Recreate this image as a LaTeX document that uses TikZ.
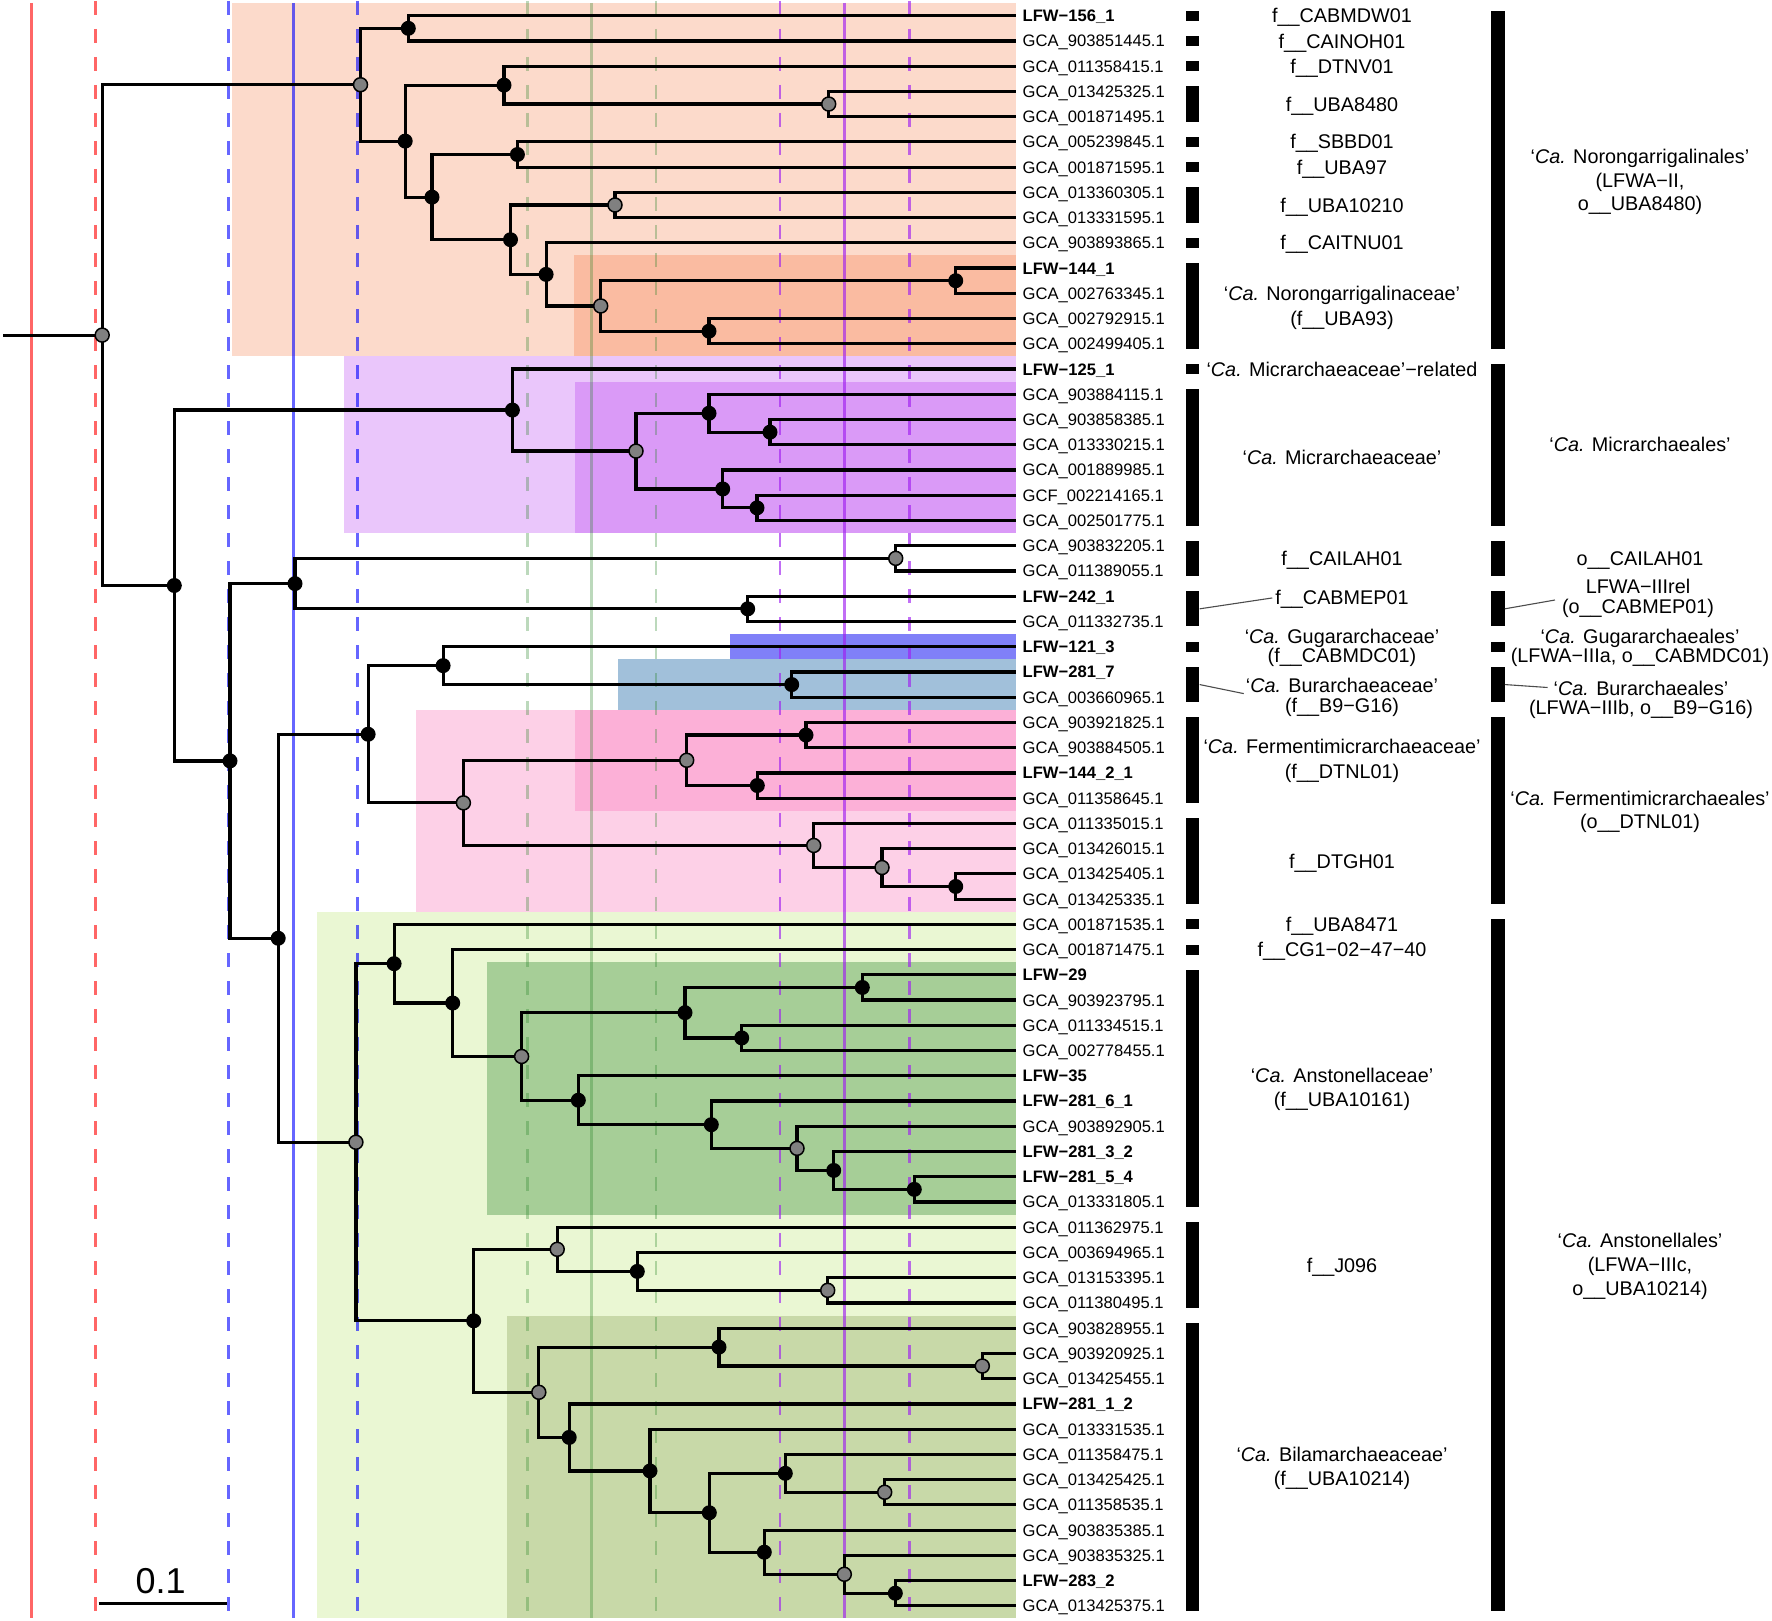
\documentclass[tikz,border=0pt]{standalone}
\usepackage{fontspec}
\setmainfont{Liberation Sans}
\definecolor{cSalmon}{HTML}{FCDACB}
\definecolor{cOrange}{HTML}{FABBA1}
\definecolor{cLPurple}{HTML}{EAC6FB}
\definecolor{cDPurple}{HTML}{DA9AF7}
\definecolor{cBlue}{HTML}{8080F8}
\definecolor{cSteel}{HTML}{A1C0DA}
\definecolor{cLPink}{HTML}{FDD0E7}
\definecolor{cDPink}{HTML}{FCB0D7}
\definecolor{cLGreen}{HTML}{EAF7D3}
\definecolor{cDGreen}{HTML}{A6CE97}
\definecolor{cOlive}{HTML}{C8D9A8}
\definecolor{lred}{RGB}{255,0,0}
\definecolor{lblue}{RGB}{0,0,255}
\definecolor{lgreen}{RGB}{32,128,32}
\definecolor{lpurple}{RGB}{160,32,240}
\definecolor{dotgrey}{RGB}{128,128,128}
\tikzset{
  br/.style={line width=3.2pt, draw=black},
  bdot/.style={circle, fill=black, inner sep=0pt, minimum size=15pt},
  gdot/.style={circle, fill=dotgrey, draw=black, line width=1.5pt, inner sep=0pt, minimum size=14pt},
  leaflab/.style={anchor=west, inner sep=0pt, font=\fontsize{16.6pt}{20pt}\selectfont, text height=11.9pt, text depth=0pt},
  annot/.style={anchor=center, inner sep=0pt, font=\fontsize{19.8pt}{24pt}\selectfont, text height=14.2pt, text depth=0pt},
  barnode/.style={rectangle, fill=black, inner sep=0pt, minimum width=13.5pt},
  conn/.style={line width=1.1pt, draw=black!70},
  vsolid/.style={line width=2.8pt},
  vdashed/.style={line width=2.8pt, dash pattern=on 14pt off 14pt},
}
\newcommand\fambar[3]{\node[barnode, minimum height={25.24*(#3-#2)+10}] (#1) at (1192.7,{25.24*(#2+#3)/2-9.54}) {};}
\newcommand\ordbar[3]{\node[barnode, minimum height={25.24*(#3-#2)+10}] (#1) at (1497.8,{25.24*(#2+#3)/2-9.54}) {};}
\begin{document}
\begin{tikzpicture}[x=1pt,y=-1pt, declare function={ry(\r)=25.24*\r-9.54;}]
\useasboundingbox (0,0) rectangle (1772,1621);

% ---------- clade backgrounds ----------
\fill[cSalmon]  (231.5,{ry(1)-12.62})  rectangle (1016,{ry(14)+12.62});
\fill[cOrange]  (574.0,{ry(11)-12.62}) rectangle (1016,{ry(14)+12.62});
\fill[cLPurple] (343.6,{ry(15)-12.62}) rectangle (1016,{ry(21)+12.62});
\fill[cDPurple] (575.0,{ry(16)-12.62}) rectangle (1016,{ry(21)+12.62});
\fill[cBlue]    (730.0,{ry(26)-12.62}) rectangle (1016,{ry(26)+12.62});
\fill[cSteel]   (617.7,{ry(27)-12.62}) rectangle (1016,{ry(28)+12.62});
\fill[cLPink]   (416.0,{ry(29)-12.62}) rectangle (1016,{ry(36)+12.62});
\fill[cDPink]   (575.0,{ry(29)-12.62}) rectangle (1016,{ry(32)+12.62});
\fill[cLGreen]  (317.2,{ry(37)-12.62}) rectangle (1016,{ry(64)+12.62});
\fill[cDGreen]  (487.1,{ry(39)-12.62}) rectangle (1016,{ry(48)+12.62});
\fill[cOlive]   (507.0,{ry(53)-12.62}) rectangle (1016,{ry(64)+12.62});

% ---------- reference lines ----------
\draw[vsolid, lred, opacity=0.6] (31.4,3) -- (31.4,1618);
\draw[vdashed, lred, opacity=0.6] (95.3,1) -- (95.3,1618);
\draw[vdashed, lblue, opacity=0.6] (228.8,1) -- (228.8,1618);
\draw[vsolid, lblue, opacity=0.6] (293.5,3) -- (293.5,1618);
\draw[vdashed, lblue, opacity=0.6] (357.8,1) -- (357.8,1618);
\draw[vdashed, lgreen, opacity=0.3] (527.7,1) -- (527.7,1618);
\draw[vsolid, lgreen, opacity=0.3] (591.7,3) -- (591.7,1618);
\draw[vdashed, lgreen, opacity=0.3] (656.0,1) -- (656.0,1618);
\draw[vdashed, lpurple, opacity=0.65] (780.0,1) -- (780.0,1618);
\draw[vsolid, lpurple, opacity=0.65] (844.3,3) -- (844.3,1618);
\draw[vdashed, lpurple, opacity=0.65] (909.3,1) -- (909.3,1618);

% ---------- tree coordinates ----------
\foreach \i in {1,...,64} { \coordinate (L\i) at (1016,{ry(\i)}); }
\foreach \n/\x/\r in {
 root/102.2/13.6548, n319/360.5/3.734375, n1/408.3/1.5, n358/405.2/5.96875,
 n447/504.0/3.75, n734/828.7/4.5, n382/432.0/8.1875, n459/517.4/6.5,
 n452/510.5/9.875, n544/615.0/8.5, n484/546.1/11.25, n531/600.7/12.5,
 n847/955.7/11.5, n628/709.0/13.5, n155/174.3/23.5752, n453/512.4/16.625,
 n563/636.0/18.25, n627/709.0/16.75, n681/770.0/17.5, n639/722.7/19.75,
 n670/757.0/20.5, n204/230.0/30.5254, n261/295.0/23.5, n793/895.7/22.5,
 n661/747.7/24.5, n246/278.2/37.5508, n325/368.1/29.46875, n393/443.1/26.75,
 n700/791.7/27.5, n409/463.4/32.1875, n607/686.7/30.5, n713/806.0/29.5,
 n670b/757.3/31.5, n720/813.7/33.875, n781/882.0/34.75, n846/955.7/35.5,
 n316/355.9/45.6328, n349/394.1/38.5586, n400/452.7/40.1172, n462/521.6/42.2344,
 n606/685.0/40.5, n763/862.3/39.5, n656/741.7/41.5, n512/578.3/43.96875,
 n629/711.3/44.9375, n706/797.0/45.875, n738/833.7/46.75, n809/914.3/47.5,
 n419/473.7/52.707, n493/557.2/49.875, n564/637.3/50.75, n733/827.7/51.5,
 n477/538.8/55.5391, n636/719.0/53.75, n869/982.3/54.5, n504/569.2/57.3281,
 n576/650.0/58.65625, n627b/709.3/60.3125, n695/785.3/58.75, n783/884.7/59.5,
 n677/764.3/61.875, n747/844.3/62.75, n792/895.3/63.5}
 { \coordinate (\n) at (\x,{ry(\r)}); }
\coordinate (stem) at (3,{ry(13.6548)});

% ---------- branches ----------
\draw[br] (stem) -- (root);
\foreach \p/\c in {
 root/n319, root/n155,
 n319/n1, n319/n358, n1/L1, n1/L2,
 n358/n447, n358/n382, n447/L3, n447/n734, n734/L4, n734/L5,
 n382/n459, n382/n452, n459/L6, n459/L7,
 n452/n544, n452/n484, n544/L8, n544/L9,
 n484/L10, n484/n531, n531/n847, n531/n628,
 n847/L11, n847/L12, n628/L13, n628/L14,
 n155/n453, n155/n204, n453/L15, n453/n563,
 n563/n627, n563/n639, n627/L16, n627/n681, n681/L17, n681/L18,
 n639/L19, n639/n670, n670/L20, n670/L21,
 n204/n261, n204/n246, n261/n793, n261/n661,
 n793/L22, n793/L23, n661/L24, n661/L25,
 n246/n325, n246/n316, n325/n393, n325/n409,
 n393/L26, n393/n700, n700/L27, n700/L28,
 n409/n607, n409/n720, n607/n713, n607/n670b,
 n713/L29, n713/L30, n670b/L31, n670b/L32,
 n720/L33, n720/n781, n781/L34, n781/n846, n846/L35, n846/L36,
 n316/n349, n316/n419, n349/L37, n349/n400, n400/L38, n400/n462,
 n462/n606, n462/n512, n606/n763, n606/n656,
 n763/L39, n763/L40, n656/L41, n656/L42,
 n512/L43, n512/n629, n629/L44, n629/n706, n706/L45, n706/n738,
 n738/L46, n738/n809, n809/L47, n809/L48,
 n419/n493, n419/n477, n493/L49, n493/n564, n564/L50, n564/n733,
 n733/L51, n733/L52,
 n477/n636, n477/n504, n636/L53, n636/n869, n869/L54, n869/L55,
 n504/L56, n504/n576, n576/L57, n576/n627b,
 n627b/n695, n627b/n677, n695/L58, n695/n783, n783/L59, n783/L60,
 n677/L61, n677/n747, n747/L62, n747/n792, n792/L63, n792/L64}
 { \draw[br] (\p) |- (\c); }

% ---------- support markers ----------
\foreach \n in {root, n319, n734, n544, n531, n563, n793, n409, n607, n720,
 n781, n316, n462, n706, n493, n733, n477, n869, n783, n747}
 { \node[gdot] (d\n) at (\n) {}; }
\foreach \n in {n1, n358, n447, n382, n459, n452, n484, n847, n628, n155,
 n453, n627, n681, n639, n670, n204, n261, n661, n246, n325, n393, n700,
 n713, n670b, n846, n349, n400, n606, n763, n656, n512, n629, n738, n809,
 n419, n564, n636, n504, n576, n627b, n695, n677, n792}
 { \node[bdot] (d\n) at (\n) {}; }

% ---------- leaf labels ----------
\foreach \i/\t in {
 1/\textbf{LFW−156\_1}, 2/GCA\_903851445.1, 3/GCA\_011358415.1, 4/GCA\_013425325.1,
 5/GCA\_001871495.1, 6/GCA\_005239845.1, 7/GCA\_001871595.1, 8/GCA\_013360305.1,
 9/GCA\_013331595.1, 10/GCA\_903893865.1, 11/\textbf{LFW−144\_1}, 12/GCA\_002763345.1,
 13/GCA\_002792915.1, 14/GCA\_002499405.1, 15/\textbf{LFW−125\_1}, 16/GCA\_903884115.1,
 17/GCA\_903858385.1, 18/GCA\_013330215.1, 19/GCA\_001889985.1, 20/GCF\_002214165.1,
 21/GCA\_002501775.1, 22/GCA\_903832205.1, 23/GCA\_011389055.1, 24/\textbf{LFW−242\_1},
 25/GCA\_011332735.1, 26/\textbf{LFW−121\_3}, 27/\textbf{LFW−281\_7}, 28/GCA\_003660965.1,
 29/GCA\_903921825.1, 30/GCA\_903884505.1, 31/\textbf{LFW−144\_2\_1}, 32/GCA\_011358645.1,
 33/GCA\_011335015.1, 34/GCA\_013426015.1, 35/GCA\_013425405.1, 36/GCA\_013425335.1,
 37/GCA\_001871535.1, 38/GCA\_001871475.1, 39/\textbf{LFW−29}, 40/GCA\_903923795.1,
 41/GCA\_011334515.1, 42/GCA\_002778455.1, 43/\textbf{LFW−35}, 44/\textbf{LFW−281\_6\_1},
 45/GCA\_903892905.1, 46/\textbf{LFW−281\_3\_2}, 47/\textbf{LFW−281\_5\_4}, 48/GCA\_013331805.1,
 49/GCA\_011362975.1, 50/GCA\_003694965.1, 51/GCA\_013153395.1, 52/GCA\_011380495.1,
 53/GCA\_903828955.1, 54/GCA\_903920925.1, 55/GCA\_013425455.1, 56/\textbf{LFW−281\_1\_2},
 57/GCA\_013331535.1, 58/GCA\_011358475.1, 59/GCA\_013425425.1, 60/GCA\_011358535.1,
 61/GCA\_903835385.1, 62/GCA\_903835325.1, 63/\textbf{LFW−283\_2}, 64/GCA\_013425375.1}
 { \node[leaflab] (t\i) at (1022.5,{ry(\i)}) {\t}; }

% ---------- family bars ----------
\fambar{fb1}{1}{1}   \fambar{fb2}{2}{2}   \fambar{fb3}{3}{3}   \fambar{fb4}{4}{5}
\fambar{fb6}{6}{6}   \fambar{fb7}{7}{7}   \fambar{fb8}{8}{9}   \fambar{fb10}{10}{10}
\fambar{fb11}{11}{14} \fambar{fb15}{15}{15} \fambar{fb16}{16}{21} \fambar{fb22}{22}{23}
\fambar{fb24}{24}{25} \fambar{fb26}{26}{26} \fambar{fb27}{27}{28} \fambar{fb29}{29}{32}
\fambar{fb33}{33}{36} \fambar{fb37}{37}{37} \fambar{fb38}{38}{38} \fambar{fb39}{39}{48}
\fambar{fb49}{49}{52} \fambar{fb53}{53}{64}

% ---------- order bars ----------
\ordbar{ob1}{1}{14}  \ordbar{ob15}{15}{21} \ordbar{ob22}{22}{23} \ordbar{ob24}{24}{25}
\ordbar{ob26}{26}{26} \ordbar{ob27}{27}{28} \ordbar{ob29}{29}{36} \ordbar{ob37}{37}{64}

% ---------- family labels ----------
\node[annot] (fl1)  at (1342,{ry(1)})   {f\_\_CABMDW01};
\node[annot] (fl2)  at (1342,{ry(2)})   {f\_\_CAINOH01};
\node[annot] (fl3)  at (1342,{ry(3)})   {f\_\_DTNV01};
\node[annot] (fl4)  at (1342,{ry(4.5)}) {f\_\_UBA8480};
\node[annot] (fl6)  at (1342,{ry(6)})   {f\_\_SBBD01};
\node[annot] (fl7)  at (1342,{ry(7)})   {f\_\_UBA97};
\node[annot] (fl8)  at (1342,{ry(8.5)}) {f\_\_UBA10210};
\node[annot] (fl10) at (1342,{ry(10)})  {f\_\_CAITNU01};
\node[annot] (fl11a) at (1342,293.6) {‘\textit{Ca.} Norongarrigalinaceae’};
\node[annot] (fl11b) at (1342,317.9) {(f\_\_UBA93)};
\node[annot] (fl15) at (1342,{ry(15)}) {‘\textit{Ca.} Micrarchaeaceae’−related};
\node[annot] (fl16) at (1342,{ry(18.5)}) {‘\textit{Ca.} Micrarchaeaceae’};
\node[annot] (fl22) at (1342,{ry(22.5)}) {f\_\_CAILAH01};
\node[annot] (fl24) at (1342,597.5) {f\_\_CABMEP01};
\node[annot] (fl26a) at (1342,636.1) {‘\textit{Ca.} Gugararchaceae’};
\node[annot] (fl26b) at (1342,655.7) {(f\_\_CABMDC01)};
\node[annot] (fl27a) at (1342,685.0) {‘\textit{Ca.} Burarchaeaceae’};
\node[annot] (fl27b) at (1342,705.0) {(f\_\_B9−G16)};
\node[annot] (fl29a) at (1342,746.8) {‘\textit{Ca.} Fermentimicrarchaeaceae’};
\node[annot] (fl29b) at (1342,771.1) {(f\_\_DTNL01)};
\node[annot] (fl33) at (1342,{ry(34.5)}) {f\_\_DTGH01};
\node[annot] (fl37) at (1342,{ry(37)}) {f\_\_UBA8471};
\node[annot] (fl38) at (1342,{ry(38)}) {f\_\_CG1−02−47−40};
\node[annot] (fl39a) at (1342,1075.7) {‘\textit{Ca.} Anstonellaceae’};
\node[annot] (fl39b) at (1342,1099.4) {(f\_\_UBA10161)};
\node[annot] (fl49) at (1342,{ry(50.5)}) {f\_\_J096};
\node[annot] (fl53a) at (1342,1454.6) {‘\textit{Ca.} Bilamarchaeaceae’};
\node[annot] (fl53b) at (1342,1477.9) {(f\_\_UBA10214)};

% ---------- order labels ----------
\node[annot] (ol1a) at (1640,156.0) {‘\textit{Ca.} Norongarrigalinales’};
\node[annot] (ol1b) at (1640,180.4) {(LFWA−II,};
\node[annot] (ol1c) at (1640,203.6) {o\_\_UBA8480)};
\node[annot] (ol15) at (1640,{ry(18)}) {‘\textit{Ca.} Micrarchaeales’};
\node[annot] (ol22) at (1640,{ry(22.5)}) {o\_\_CAILAH01};
\node[annot] (ol24a) at (1638,586.1) {LFWA−IIIrel};
\node[annot] (ol24b) at (1638,606.8) {(o\_\_CABMEP01)};
\node[annot] (ol26a) at (1640,636.1) {‘\textit{Ca.} Gugararchaeales’};
\node[annot] (ol26b) at (1640,655.7) {(LFWA−IIIa, o\_\_CABMDC01)};
\node[annot] (ol27a) at (1641,687.9) {‘\textit{Ca.} Burarchaeales’};
\node[annot] (ol27b) at (1641,707.5) {(LFWA−IIIb, o\_\_B9−G16)};
\node[annot] (ol29a) at (1640,797.9) {‘\textit{Ca.} Fermentimicrarchaeales’};
\node[annot] (ol29b) at (1640,821.8) {(o\_\_DTNL01)};
\node[annot] (ol37a) at (1640,1240.7) {‘\textit{Ca.} Anstonellales’};
\node[annot] (ol37b) at (1640,1264.7) {(LFWA−IIIc,};
\node[annot] (ol37c) at (1640,1287.9) {o\_\_UBA10214)};

% ---------- label connectors ----------
\draw[conn, shorten >=3pt] (fb24.east) -- (fl24.west);
\draw[conn, shorten >=2pt] (fb27.east) -- ([yshift=-9pt]fl27a.west);
\draw[conn, shorten >=7pt] (ob24.east) -- ([yshift=8pt]ol24b.west);
\draw[conn, shorten >=6pt] (ob27.east) -- (ol27a.west);

% ---------- scale bar ----------
\coordinate (sbl) at (98.7,1603.8);
\coordinate (sbr) at (226.5,1603.8);
\draw[line width=3pt] (sbl) -- (sbr);
\node[inner sep=0pt, font=\fontsize{36pt}{40pt}\selectfont, text height=25.8pt, text depth=0pt] (sblab) at (160.7,1580.9) {0.1};
\end{tikzpicture}
\end{document}
